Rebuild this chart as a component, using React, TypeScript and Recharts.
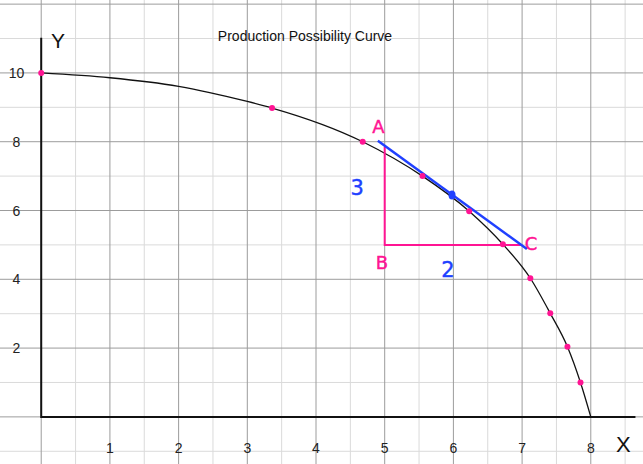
import { CartesianGrid, ComposedChart, Line, Scatter, XAxis, YAxis } from "recharts";

// curve
const curveX = [0, 1, 2, 3, 3.36, 4.68, 5.55, 6.23, 6.72, 7.12, 7.41, 7.66, 7.85, 8.0];
const curveY = [10, 9.86, 9.61, 9.17, 8.98, 8.0, 7.0, 5.98, 5.02, 4.03, 3.01, 2.04, 1.0, 0];

// pink markers on the curve
const markX = [0, 3.36, 4.68, 5.55, 6.23, 6.72, 7.12, 7.41, 7.66, 7.85];
const markY = [10, 8.98, 8.0, 7.0, 5.98, 5.02, 4.03, 3.01, 2.04, 1.0];

// tangent at the blue point and the A-B-C triangle
const tangentX = [4.9, 7.07];
const tangentY = [8.03, 4.88];
const pointX = [5.98];
const pointY = [6.45];
const triangleX = [5, 5, 7];
const triangleY = [7.85, 5, 5];

// axes drawn as a polyline: top of Y axis, origin, end of X axis
const axisX = [0, 0, 8.65];
const axisY = [11.02, 0, 0];

const xTicks = [1, 2, 3, 4, 5, 6, 7, 8];
const yTicks = [2, 4, 6, 8, 10];

const xMajor = [0, 1, 2, 3, 4, 5, 6, 7, 8];
const xMinor = [-0.5, 0.5, 1.5, 2.5, 3.5, 4.5, 5.5, 6.5, 7.5, 8.5];
const yMajor = [0, 2, 4, 6, 8, 10, 12];
const yMinor = [-1, 1, 3, 5, 7, 9, 11];

const noteText = ["A", "B", "C", "3", "2"];
const noteX = [4.91, 4.96, 7.13, 4.6, 5.92];
const noteY = [8.43, 4.5, 5.03, 6.66, 4.27];
const noteColor = ["#ff1493", "#ff1493", "#ff1493", "#2040ff", "#2040ff"];

const zip = (xs: number[], ys: number[]) => xs.map((x, i) => ({ x, y: ys[i] }));

const curve = zip(curveX, curveY);
const marks = zip(markX, markY);
const tangent = zip(tangentX, tangentY);
const point = zip(pointX, pointY);
const triangle = zip(triangleX, triangleY);
const axes = zip(axisX, axisY);
const notes = noteText.map((text, i) => ({ text, x: noteX[i], y: noteY[i], color: noteColor[i] }));
const xLabels = xTicks.map((v) => ({ x: v, y: -0.9, text: String(v) }));
const yLabels = yTicks.map((v) => ({ x: -0.36, y: v, text: String(v) }));

const W = 643;
const H = 464;
const font = "'Liberation Sans', Arial, sans-serif";

const TickText = (p: any) => (
  <text
    x={p.cx}
    y={p.cy}
    textAnchor="middle"
    dominantBaseline="central"
    fontSize={14}
    fill="#222"
    fontFamily={font}
  >
    {p.payload.text}
  </text>
);

const NoteText = (p: any) => (
  <text
    x={p.cx}
    y={p.cy}
    textAnchor="middle"
    dominantBaseline="central"
    fontSize={p.payload.text === "A" || p.payload.text === "B" || p.payload.text === "C" ? 18 : 21}
    fill={p.payload.color}
    stroke={p.payload.color}
    strokeWidth={0.4}
    fontFamily="'DejaVu Sans', sans-serif"
  >
    {p.payload.text}
  </text>
);

export default function App() {
  return (
    <div style={{ position: "absolute", left: 0, top: 0, width: W, height: H, background: "#fff" }}>
      <ComposedChart width={W} height={H} margin={{ top: 0, right: 0, left: 0, bottom: 0 }}>
        <XAxis type="number" dataKey="x" domain={[-0.6, 8.76]} hide allowDataOverflow />
        <YAxis type="number" dataKey="y" domain={[-1.37, 12.12]} hide allowDataOverflow />
        <CartesianGrid stroke="#dadada" horizontalValues={yMinor} verticalValues={xMinor} />
        <CartesianGrid stroke="#9c9c9c" horizontalValues={yMajor} verticalValues={xMajor} />

        <Scatter data={xLabels} isAnimationActive={false} shape={TickText} />
        <Scatter data={yLabels} isAnimationActive={false} shape={TickText} />

        <Line
          data={axes}
          dataKey="y"
          type="linear"
          stroke="#111"
          strokeWidth={2}
          dot={false}
          activeDot={false}
          isAnimationActive={false}
        />
        <Line
          data={curve}
          dataKey="y"
          type="monotone"
          stroke="#111"
          strokeWidth={1.3}
          dot={false}
          activeDot={false}
          isAnimationActive={false}
        />
        <Line
          data={triangle}
          dataKey="y"
          type="linear"
          stroke="#ff1493"
          strokeWidth={2}
          dot={false}
          activeDot={false}
          isAnimationActive={false}
        />
        <Line
          data={tangent}
          dataKey="y"
          type="linear"
          stroke="#2040ff"
          strokeWidth={2.5}
          dot={false}
          activeDot={false}
          isAnimationActive={false}
        />
        <Scatter
          data={marks}
          fill="#ff1493"
          isAnimationActive={false}
          shape={(p: any) => <circle cx={p.cx} cy={p.cy} r={3} fill="#ff1493" />}
        />
        <Scatter
          data={point}
          fill="#2040ff"
          isAnimationActive={false}
          shape={(p: any) => <ellipse cx={p.cx} cy={p.cy} rx={3.5} ry={4.5} fill="#2040ff" />}
        />
        <Scatter data={notes} isAnimationActive={false} shape={NoteText} />
      </ComposedChart>
      <div
        style={{
          position: "absolute",
          left: 0,
          width: 610,
          top: 28,
          textAlign: "center",
          fontFamily: font,
          fontSize: 14,
          color: "#111",
        }}
      >
        Production Possibility Curve
      </div>
      <div style={{ position: "absolute", left: 51, top: 29, fontFamily: font, fontSize: 21, color: "#111" }}>Y</div>
      <div style={{ position: "absolute", left: 616, top: 432, fontFamily: font, fontSize: 22, color: "#111" }}>X</div>
    </div>
  );
}
